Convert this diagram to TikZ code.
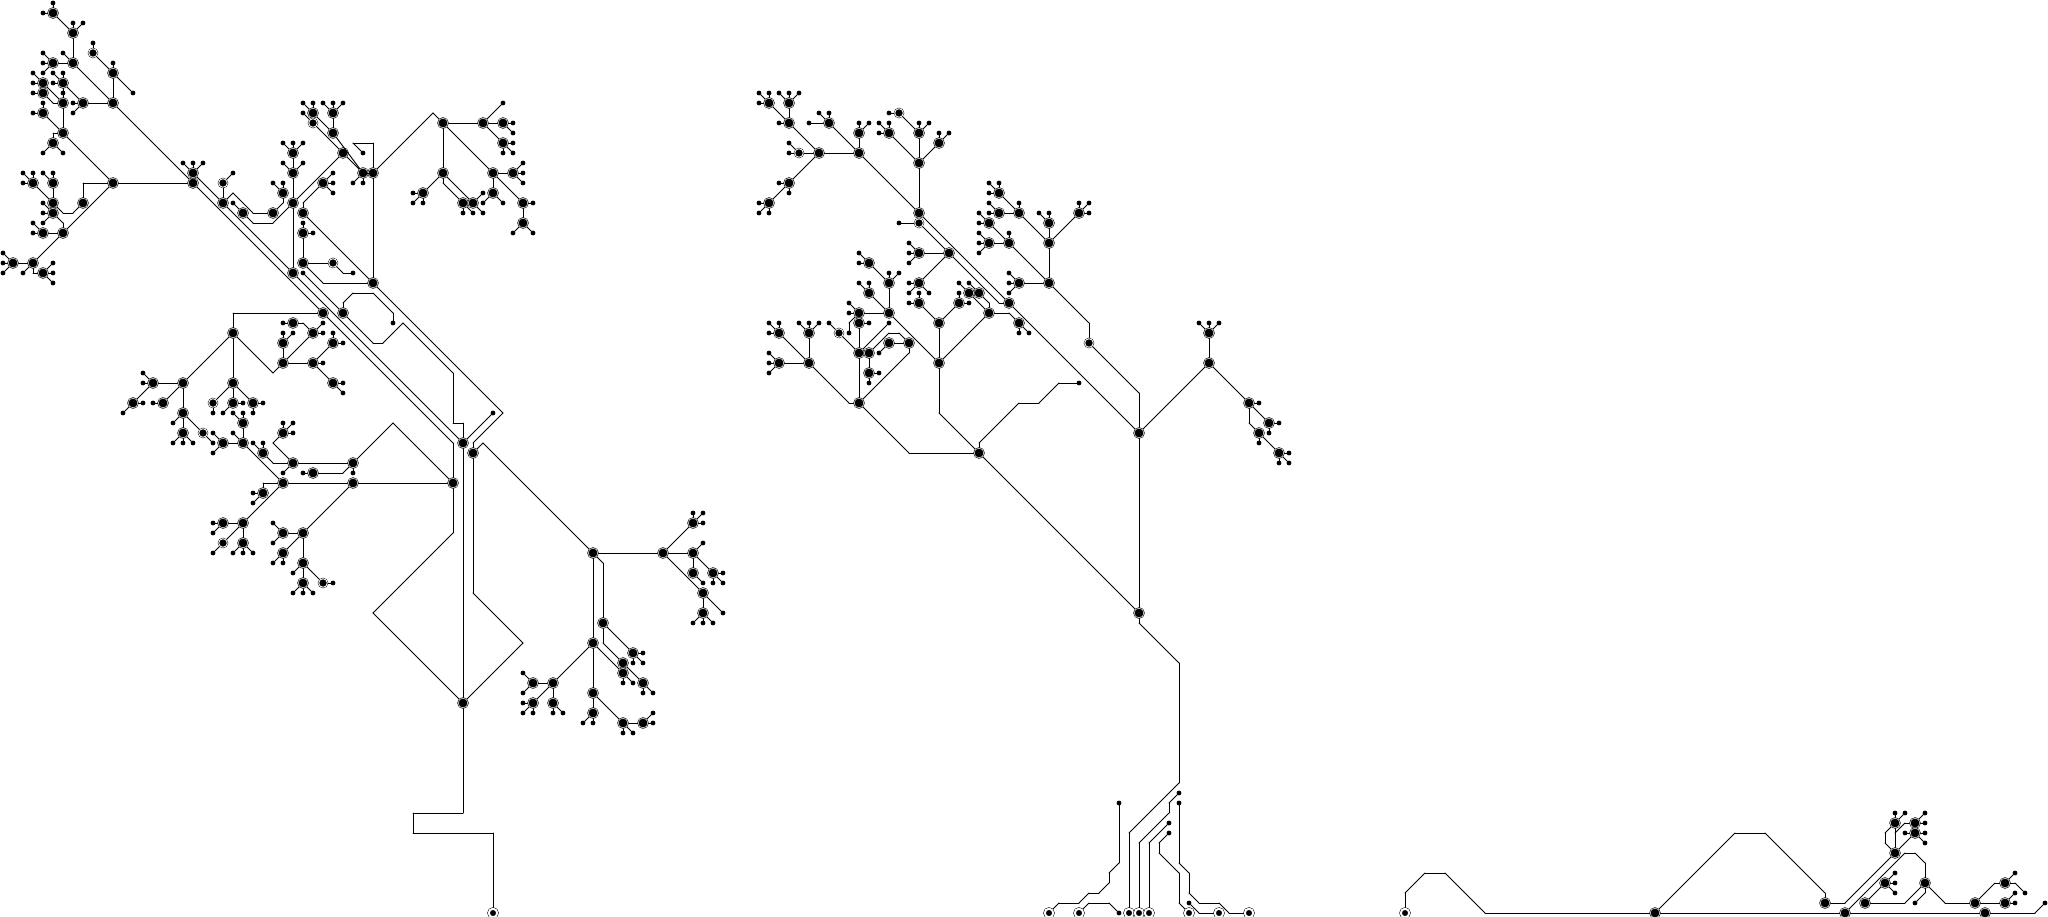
\documentclass[tikz,border=0pt]{standalone}
\tikzset{
  wire/.style={draw=black,line width=.95pt,line cap=round,line join=round},
  hub/.style={circle,inner sep=0pt,minimum size=9.7pt,fill=black,draw=black,line width=.6pt,double=white,double distance=.5pt,outer sep=.85pt},
  ringed/.style={circle,inner sep=0pt,minimum size=8.6pt,fill=black,draw=black,line width=.45pt,double=white,double distance=.9pt,outer sep=.9pt},
  leaf/.style={circle,inner sep=0pt,minimum size=4.8pt,fill=black,draw=none,outer sep=0pt},
  terminal/.style={circle,inner sep=0pt,minimum size=8.4pt,fill=black,draw=black,line width=.5pt,double=white,double distance=2pt,outer sep=1.5pt}
}
\def\Gp{a}\def\Gx{3}
\newcommand\Pl[2]{\foreach \ii/\jj in {#2}{\node[#1] (\Gp\ii-\jj) at ({\Gx+10*\ii},{3+10*\jj}) {};}}
\newcommand\Lv[2]{\foreach \pa/\pb in {#1}{\foreach \ii/\jj in {#2}{%
  \node[leaf] (\Gp\ii-\jj) at ({\Gx+10*\ii},{3+10*\jj}) {};
  \draw[wire] (\Gp\pa-\pb) -- (\Gp\ii-\jj);}}}
\newcommand\W[1]{\gdef\prevpt{}\foreach \ii/\jj in {#1}{%
  \ifcsname pgf@sh@ns@\Gp\ii-\jj\endcsname\else
    \coordinate (\Gp\ii-\jj) at ({\Gx+10*\ii},{3+10*\jj});
  \fi
  \ifx\prevpt\empty\else \draw[wire] (\prevpt) -- (\Gp\ii-\jj);\fi
  \xdef\prevpt{\Gp\ii-\jj}}}
\newcommand\Ws[1]{\foreach \cc in {#1}{\expandafter\W\expandafter{\cc}}}
\begin{document}
\begin{tikzpicture}[x=1pt,y=-1pt]
\useasboundingbox (0,0) rectangle (2048,917);
% ---------- first tree
\def\Gp{a}\def\Gx{3}
\Pl{hub}{5/1,7/3,7/6,5/6,11/10,11/7,8/10,6/10,6/8,4/8,4/9,4/11,6/13,5/14,11/18,19/18,19/17,8/20,5/20,5/18,3/18,5/21,6/23,4/23,3/26,1/26,4/27,22/20,24/21,27/21,28/19,29/20,29/17,29/15,29/27,31/11,33/11,33/13,34/15,36/17,37/17,37/28,32/18,30/21,30/23,30/26,44/12,48/12,50/12,50/14,44/17,42/19,46/20,47/20,49/17,51/17,49/19,52/20,52/22,32/31,34/31,23/33,18/38,15/38,16/40,13/40,18/41,18/43,22/44,24/44,24/42,28/48,23/38,23/40,25/40,31/33,29/32,28/36,28/34,31/36,33/34,33/38,28/43,29/46,26/45,35/46,31/47,35/48,26/49,24/52,22/52,24/54,30/53,28/53,28/55,30/56,30/58,45/48,46/44,47/45,46/70,59/55,66/55,69/52,69/55,69/57,71/57,70/59,70/61,60/62,63/65,62/66,64/68,62/67,59/64,55/68,53/68,53/70,55/70,59/69,59/71,62/72,64/72}
\Pl{ringed}{9/5,22/18,31/12,33/26,20/43,21/40,22/54,32/58}
\Pl{terminal}{49/91}
\Pl{leaf}{36/15,35/27,39/32,49/41,12/41,21/44}
\Lv{5/1}{5/0,4/1}\Lv{7/3}{7/2,8/2}\Lv{7/6}{6/5}\Lv{5/6}{4/5,4/6,4/7}\Lv{11/7}{11/6,13/9}\Lv{9/5}{9/4}
\Lv{8/10}{7/10,7/11}\Lv{6/8}{6/7,5/8,5/7}\Lv{4/8}{3/7,3/8}\Lv{4/9}{3/9}\Lv{6/10}{6/9}\Lv{4/11}{4/10,3/11}\Lv{5/14}{4/15,6/15}
\Lv{19/17}{18/16,19/16,20/16}\Lv{22/18}{23/17}\Lv{24/21}{23/20}\Lv{28/19}{27/18,28/18}\Lv{29/17}{28/16,30/16}\Lv{29/15}{28/14,29/14,30/14}
\Lv{31/11}{30/10,31/10}\Lv{31/12}{30/11}\Lv{33/11}{32/10,33/10,34/10}\Lv{36/17}{35/18,36/18}\Lv{32/18}{33/17,33/18,33/19}\Lv{30/23}{30/22,31/23}
\Lv{5/18}{4/17,5/17}\Lv{3/18}{2/17,3/17,2/18}\Lv{5/21}{4/20,4/21,4/22}\Lv{4/23}{3/22,3/23}\Lv{1/26}{0/25,0/26,0/27}\Lv{3/26}{2/27}\Lv{4/27}{5/26,5/27,5/28}
\Lv{34/31}{30/27}
\Lv{15/38}{14/37,14/38}\Lv{13/40}{14/40}\Lv{16/40}{15/40}\Lv{18/41}{17/42}\Lv{18/43}{17/44,18/44,19/44}\Lv{22/44}{21/43,21/45}\Lv{24/42}{23/41,24/41}\Lv{24/44}{23/43}
\Lv{21/40}{21/41}\Lv{23/40}{24/40,22/41}\Lv{25/40}{26/40,25/41}\Lv{28/34}{28/33,29/33}\Lv{29/32}{28/32}\Lv{31/33}{32/32,32/33}\Lv{31/36}{32/36}\Lv{33/34}{33/33,34/34}\Lv{33/38}{34/38,34/39}
\Lv{28/43}{28/42,29/42,29/43}\Lv{29/46}{28/47}\Lv{26/45}{25/44,26/44}\Lv{35/46}{35/47}\Lv{31/47}{30/47}\Lv{26/49}{25/49,25/50}\Lv{22/52}{21/52,21/53}\Lv{22/54}{21/55}\Lv{24/54}{23/55,24/55,25/55}
\Lv{28/53}{27/52,27/54}\Lv{28/55}{27/56,28/56}\Lv{30/56}{29/57}\Lv{32/58}{33/58}\Lv{30/58}{29/59,30/59,31/59}
\Lv{63/65}{64/65,63/66,64/66}\Lv{64/68}{64/69,65/69}\Lv{62/67}{62/68,63/68}\Lv{53/68}{52/67,52/69}\Lv{53/70}{52/70,52/71,53/71}\Lv{55/70}{55/71,56/71}\Lv{59/71}{58/72,59/72}\Lv{62/72}{62/73,63/73}\Lv{64/72}{65/71,65/72}
\Lv{69/52}{69/51,70/51,70/52}\Lv{69/55}{70/54}\Lv{69/57}{70/58}\Lv{71/57}{72/57,71/58,72/58}\Lv{70/59}{72/61}\Lv{70/61}{69/62,70/62,71/62}
\Lv{48/12}{50/10}\Lv{50/12}{51/12,51/13}\Lv{50/14}{51/14,50/15,51/15}\Lv{42/19}{41/19,41/20,42/20}\Lv{46/20}{46/21,47/21}\Lv{47/20}{48/21,48/19}\Lv{51/17}{52/16,52/17,52/18}\Lv{49/19}{48/20,50/20}\Lv{52/20}{53/20}\Lv{52/22}{51/23,53/23}
\Ws{{5/1,7/3},{7/3,7/6},{7/6,5/6},{7/6,11/10},{11/7,11/10},{9/5,11/7},{8/10,11/10},{6/8,8/10},{6/8,6/10},{4/8,6/10},{4/9,5/10,6/10},{6/10,6/13},{4/11,6/13},{6/13,5/13,5/14},{6/13,11/18},{11/18,19/18},{11/18,8/18,8/20},{8/20,7/21,6/21,5/20},{5/20,5/18},{3/18,5/20},{5/21,6/22,6/23},{6/23,4/23},{11/18,6/23},{6/23,3/26},{3/26,1/26},{3/26,3/27,4/27}}
\Ws{{11/10,19/18},{19/18,32/31},{19/17,22/20},{22/20,22/18},{22/20,29/27},{22/20,23/19,25/21,27/21},{24/21,25/22,27/22,29/20},{27/21,28/20,28/19},{29/20,29/17},{29/17,29/15},{29/20,29/27},{29/20,34/15},{34/15,36/17},{31/12,34/15},{31/11,33/13},{33/13,36/17},{33/13,33/11},{36/17,37/17},{37/17,37/28},{37/17,37/14,35/14,36/15},{37/17,43/11,44/12}}
\Ws{{32/18,30/20,30/21},{30/21,37/28},{30/23,30/26},{30/26,33/26},{33/26,34/27,35/27},{30/26,32/28,37/28},{37/28,50/41,47/44,47/45},{49/41,46/44}}
\Ws{{34/31,37/34,38/34,40/32,45/37,45/42,46/42,46/44},{32/31,45/44,45/48},{45/48,45/53,37/61,46/70},{29/27,46/44},{46/44,46/70},{47/45,47/59,52/64,46/70},{47/45,48/44,59/55},{34/31,34/30,35/29,37/29,39/31,39/32},{32/31,23/31,23/33}}
\Ws{{23/33,18/38},{18/38,15/38},{15/38,13/40},{13/40,12/41},{18/38,16/40},{18/38,18/41},{18/41,18/43},{18/41,20/43},{20/43,21/44},{22/44,24/44},{24/44,24/42},{24/44,28/48}}
\Ws{{23/33,23/38},{23/38,21/40},{23/38,23/40},{23/38,25/40},{23/33,27/37,28/36},{28/36,31/33},{28/36,31/36},{28/36,28/34},{29/32,30/32,31/33},{31/36,33/34},{31/36,33/38}}
\Ws{{28/43,27/44,29/46},{29/46,35/46},{29/46,27/46,26/45},{35/46,39/42,45/48},{35/46,34/47,31/47},{28/48,35/48},{35/48,45/48},{28/48,26/48,26/49},{28/48,24/52},{24/52,22/52},{24/52,22/54},{24/52,24/54},{35/48,30/53},{30/53,28/53},{30/53,28/55},{30/53,30/56},{30/56,32/58},{30/56,30/58}}
\Ws{{46/70,46/81,41/81,41/83,49/83,49/91}}
\Ws{{59/55,66/55},{59/55,59/64},{59/55,60/56,60/62},{60/62,60/64,62/66},{62/66,64/68},{60/62,63/65},{59/64,62/67},{59/64,55/68},{55/68,53/68},{55/68,53/70},{55/68,55/70},{59/64,59/69},{59/69,59/71},{59/69,62/72},{62/72,64/72},{66/55,69/52},{66/55,69/55},{69/55,69/57},{69/55,71/57},{66/55,70/59},{70/59,70/61}}
\Ws{{44/12,48/12},{48/12,50/12},{48/12,50/14},{44/12,44/17},{44/17,42/19},{44/17,44/18,46/20},{44/17,47/20},{44/12,49/17},{49/17,51/17},{49/17,49/19},{49/17,52/20},{52/20,52/22}}
% ---------- second tree
\def\Gp{b}\def\Gx{9}
\Pl{hub}{76/10,78/10,78/12,81/15,78/18,76/20,85/15,85/13,82/12,91/21,91/16,91/13,88/13,93/14,94/25,91/25,91/28,91/30,93/32,95/30,93/36,98/31,97/29,96/29,101/32,100/30,104/28,101/28,104/24,104/22,107/21,101/21,99/21,99/19,100/24,98/24,98/22,88/31,85/31,88/28,86/26,86/29,85/32,85/35,86/35,86/37,88/34,90/34,85/40,80/36,77/36,80/33,77/33,97/45,113/43,113/61,120/36,120/33,124/40,126/42,125/43,127/45}
\Pl{ringed}{79/15,89/11,91/22,83/33,108/34}
\Pl{terminal}{112/91,113/91,114/91,118/91,124/91,121/91,104/91,107/91}
\Pl{leaf}{107/38,117/79,116/82,116/83,117/80,118/90,111/80,111/91,84/33}
\Lv{76/10}{75/9,76/9,75/10}\Lv{78/10}{77/9,78/9,79/9}\Lv{78/12}{77/12}\Lv{79/15}{78/14,78/15}\Lv{78/18}{77/18,78/19}\Lv{76/20}{75/20,75/21,76/21}\Lv{85/13}{85/12,86/12}\Lv{82/12}{81/11,82/11,80/12}\Lv{91/13}{91/12,92/12}\Lv{89/11}{88/11}\Lv{88/13}{87/12,88/12,87/13}\Lv{93/14}{93/13,94/13}\Lv{91/22}{89/22}
\Lv{91/25}{90/24,90/25,90/26}\Lv{91/28}{90/28,90/29,92/29}\Lv{91/30}{91/29,90/30}\Lv{95/30}{95/29,96/30}\Lv{96/29}{95/28}\Lv{97/29}{96/28}\Lv{101/32}{101/33,102/33}\Lv{101/28}{100/27,100/28,100/29}\Lv{104/22}{103/21,104/21}\Lv{107/21}{107/20,108/20,108/21}\Lv{101/21}{101/20}\Lv{99/21}{98/20,98/21}\Lv{99/19}{98/18,99/18,98/19}\Lv{100/24}{100/23}\Lv{98/24}{97/23,97/24,97/25}\Lv{98/22}{97/21,97/22}
\Lv{85/31}{84/30,84/31}\Lv{88/28}{88/27,89/27}\Lv{86/26}{85/25,85/26}\Lv{86/29}{85/28,86/28}\Lv{85/32}{86/32}\Lv{85/35}{88/32}\Lv{83/33}{82/32}\Lv{86/37}{87/37,86/38}\Lv{88/34}{87/35}\Lv{77/36}{76/35,76/36,76/37}\Lv{80/33}{79/32,80/32,81/32}\Lv{77/33}{76/32,77/32,76/33}\Lv{120/33}{119/32,120/32,121/32}\Lv{124/40}{125/40}\Lv{126/42}{127/42,126/43}\Lv{125/43}{125/44}\Lv{127/45}{128/45,127/46,128/46}
\Ws{{76/10,78/12},{78/10,78/12},{78/12,81/15},{81/15,79/15},{81/15,78/18},{78/18,76/20},{81/15,85/15},{85/15,85/13},{82/12,85/15},{85/15,91/21},{91/21,91/16},{91/16,91/13},{89/11,91/13},{91/16,88/13},{91/16,93/14},{91/21,100/30},{100/30,113/43},{91/22,94/25},{94/25,99/30,100/30},{94/25,91/25},{94/25,91/28},{91/30,93/32},{95/30,93/32},{93/32,93/36},{93/36,93/41,97/45},{93/36,98/31},{97/29,98/30,98/31},{96/29,98/31},{98/31,100/31,101/32}}
\Ws{{104/28,108/32,108/34},{108/34,113/39,113/43},{104/28,101/28},{104/28,104/24},{104/24,104/22},{104/24,107/21},{104/24,101/21},{101/21,99/21},{101/21,99/19},{100/24,104/28},{100/24,98/24},{98/22,100/24}}
\Ws{{88/31,85/31},{88/31,88/28},{86/26,88/28},{86/29,88/31},{88/31,93/36},{85/32,85/35},{85/35,85/40},{85/31,84/32,84/33},{85/35,83/33},{86/35,88/33,89/33,90/34},{86/35,86/37},{88/34,90/34},{90/34,90/35,85/40},{85/40,84/40,80/36},{85/40,90/45,97/45},{80/36,77/36},{80/36,80/33},{77/33,80/36},{97/45,97/44,101/40,103/40,105/38,107/38},{97/45,113/61},{113/43,113/61},{113/61,113/62,117/66,117/78,112/83,112/91}}
\Ws{{113/43,120/36},{120/36,120/33},{120/36,124/40},{124/40,126/42},{124/40,124/42,125/43},{125/43,127/45}}
\Ws{{117/79,116/80,116/81,113/84,113/91},{116/82,114/84,114/91},{116/83,115/84,115/85,117/87,117/90,118/91},{117/80,117/86,118/87,118/89,119/90,121/90,122/91,124/91},{118/90,119/91,121/91},{111/80,111/86,110/87,110/88,109/89,108/89,107/90,105/90,104/91},{111/91,110/90,108/90,107/91}}
% ---------- third tree
\def\Gp{c}\def\Gx{5}
\Pl{hub}{165/91,184/91,198/91,182/90,189/85,189/82,191/82,191/83,186/90,188/88,192/88,197/90,200/90,200/88}
\Pl{terminal}{140/91}
\Pl{leaf}{204/90,191/90,202/89}
\Lv{189/82}{189/81,190/81}\Lv{191/82}{192/81,192/82}\Lv{191/83}{192/83,190/83,192/84}\Lv{188/88}{189/87,189/88,189/89}\Lv{200/90}{201/89,201/90}\Lv{200/88}{201/87}
\Ws{{140/91,140/89,142/87,144/87,148/91,165/91},{165/91,173/83,176/83,182/89,182/90},{165/91,184/91},{184/91,198/91},{198/91,203/91,204/90},{182/90,184/90,189/85},{189/85,189/82},{189/85,188/84,188/83,189/82},{189/83,190/82,191/82},{191/83,189/85},{184/91,190/85,191/85,192/86,192/88},{192/88,190/90,186/90},{186/90,188/88},{192/88,192/89,191/90},{192/88,194/90,197/90},{197/90,200/90},{197/90,199/88,200/88},{200/88,201/88,202/89}}
\end{tikzpicture}
\end{document}
